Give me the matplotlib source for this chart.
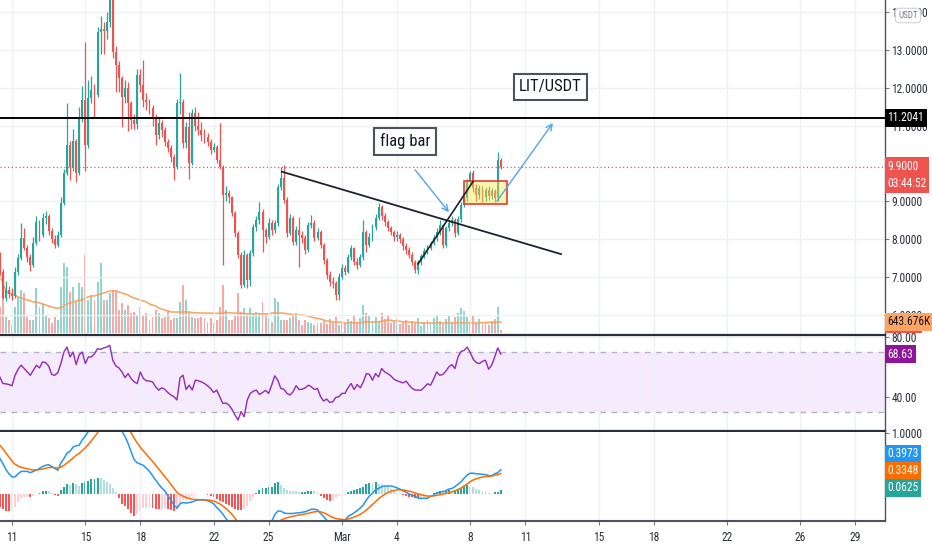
import numpy as np
import pandas as pd
import matplotlib
matplotlib.use("Agg")
import matplotlib.pyplot as plt
import matplotlib.dates as mdates
import matplotlib.font_manager as fm
from matplotlib.patches import Rectangle
from matplotlib.ticker import FormatStrFormatter
from matplotlib.transforms import blended_transform_factory, offset_copy

# ---------------- data (LIT/USDT, 4h bars) ----------------
bar_start = "2021-02-10 08:00"
first_open = 7.55
closes = [
    7.13, 6.45, 6.65, 6.55, 6.50, 7.13, 7.50, 8.03, 7.77, 7.52,
    7.30, 7.90, 8.45, 8.10, 8.55, 8.60, 8.20, 8.00, 7.85, 8.10,
    8.95, 9.75, 10.50, 9.90, 10.60, 9.75, 11.20, 11.68, 10.50, 11.73,
    11.94, 11.80, 13.47, 13.55, 13.50, 13.73, 14.40, 12.95, 12.60, 12.25,
    11.75, 12.00, 11.60, 11.15, 11.05, 12.34, 12.07, 11.68, 11.62, 11.47,
    11.23, 10.75, 11.07, 10.88, 10.57, 10.41, 10.17, 9.90, 11.60, 11.62,
    10.54, 10.96, 10.00, 11.33, 11.00, 10.88, 10.75, 10.70, 10.57, 10.35,
    10.43, 10.09, 9.90, 9.16, 9.22, 9.11, 8.69, 8.16, 7.58, 6.78,
    7.58, 6.92, 7.63, 8.32, 8.50, 8.71, 8.24, 8.05, 8.42, 8.24,
    8.42, 9.38, 9.61, 9.03, 8.16, 8.56, 7.92, 8.24, 8.10, 8.03,
    7.71, 8.37, 8.42, 8.03, 8.19, 7.84, 7.44, 7.05, 6.86, 6.84,
    6.52, 7.00, 7.23, 7.13, 7.52, 7.76, 7.39, 7.31, 7.52, 8.19,
    7.84, 8.05, 8.32, 8.56, 8.85, 8.61, 8.45, 8.29, 8.19, 8.05,
    8.10, 8.00, 7.81, 7.71, 7.58, 7.39, 7.18, 7.39, 7.55, 7.68,
    7.76, 7.89, 8.03, 8.19, 8.37, 7.84, 8.29, 8.42, 8.50, 8.16,
    8.53, 8.90, 9.08, 9.51, 9.75, 9.35, 9.16, 9.35, 9.11, 9.30,
    9.14, 9.27, 9.08, 10.09, 9.90,
]
highs = [
    7.65, 7.20, 6.90, 6.75, 6.70, 7.25, 7.60, 8.42, 8.30, 7.85,
    7.60, 8.05, 8.60, 8.50, 8.70, 8.75, 8.65, 8.30, 8.10, 8.20,
    9.10, 9.85, 11.60, 10.60, 10.90, 10.65, 11.50, 12.05, 13.20, 12.20,
    12.30, 12.10, 13.60, 13.90, 13.75, 14.00, 14.90, 14.80, 13.10, 12.70,
    12.30, 12.20, 12.15, 11.65, 11.30, 12.50, 12.50, 12.74, 11.85, 11.70,
    11.55, 11.30, 11.20, 11.15, 10.95, 10.65, 10.50, 10.25, 11.70, 12.40,
    11.70, 11.10, 11.35, 11.45, 11.50, 11.35, 11.10, 10.90, 10.80, 10.65,
    10.55, 10.50, 11.07, 9.95, 9.40, 9.30, 9.15, 8.75, 8.20, 7.65,
    7.70, 7.62, 7.70, 8.40, 8.60, 8.98, 8.80, 8.30, 8.55, 8.50,
    8.50, 9.45, 9.90, 9.96, 9.10, 8.65, 8.60, 8.35, 8.58, 8.20,
    8.10, 8.45, 8.63, 8.50, 8.30, 8.25, 7.90, 7.50, 7.15, 7.00,
    6.90, 7.10, 7.35, 7.30, 7.60, 7.84, 7.80, 7.50, 7.60, 8.50,
    8.25, 8.15, 8.40, 8.65, 8.95, 8.90, 8.70, 8.50, 8.35, 8.25,
    8.20, 8.15, 8.05, 7.90, 7.80, 7.65, 7.45, 7.45, 7.60, 7.75,
    7.85, 7.95, 8.10, 8.30, 8.50, 8.40, 8.35, 8.50, 8.60, 8.55,
    8.60, 8.98, 9.15, 9.60, 9.80, 9.83, 9.45, 9.42, 9.40, 9.38,
    9.40, 9.35, 9.32, 10.30, 10.15,
]
lows = [
    7.05, 6.40, 6.35, 6.45, 6.38, 6.45, 7.05, 7.45, 7.70, 7.40,
    7.15, 7.25, 7.85, 7.95, 8.05, 8.40, 8.10, 7.90, 7.75, 7.80,
    8.05, 8.90, 9.70, 9.55, 9.80, 9.50, 9.70, 11.10, 9.80, 10.40,
    11.60, 11.20, 11.75, 12.90, 12.90, 13.30, 13.60, 12.80, 11.90, 11.90,
    10.95, 11.60, 10.85, 10.90, 10.90, 10.90, 11.90, 11.50, 11.40, 11.30,
    11.00, 10.50, 10.65, 10.70, 10.45, 10.30, 10.05, 9.55, 9.85, 11.30,
    10.40, 10.40, 9.60, 9.95, 10.85, 10.75, 10.60, 10.55, 10.45, 10.25,
    10.30, 10.00, 9.85, 7.31, 9.00, 8.95, 8.60, 8.05, 7.50, 6.70,
    6.72, 6.70, 6.75, 7.55, 8.20, 8.40, 7.66, 7.90, 8.00, 8.10,
    8.15, 8.35, 9.30, 8.95, 8.05, 8.10, 7.85, 7.85, 7.26, 7.90,
    7.60, 7.65, 8.30, 7.95, 7.98, 7.75, 7.35, 6.95, 6.75, 6.70,
    6.39, 6.39, 6.95, 7.05, 7.10, 7.45, 7.30, 7.20, 7.25, 7.45,
    7.65, 7.80, 7.95, 8.25, 8.50, 8.50, 8.35, 8.20, 8.10, 7.95,
    7.95, 7.90, 7.70, 7.60, 7.50, 7.30, 7.10, 7.08, 7.30, 7.50,
    7.60, 7.70, 7.85, 7.95, 8.10, 7.76, 7.80, 8.20, 8.35, 8.05,
    8.10, 8.45, 8.85, 9.00, 9.45, 9.25, 9.00, 9.05, 8.98, 9.00,
    9.02, 9.05, 8.98, 9.00, 9.85,
]
volumes_k = [
    1521, 2984, 936, 761, 468, 1521, 2106, 2516, 2340, 936,
    761, 761, 2633, 1521, 1755, 1053, 878, 585, 936, 761,
    2691, 4095, 3861, 2399, 2691, 1814, 2925, 2691, 4563, 1931,
    2223, 1931, 2984, 4095, 1931, 1931, 2340, 2516, 2516, 1346,
    1755, 1346, 1638, 1170, 1229, 1053, 1521, 1053, 1170, 761,
    936, 1346, 1170, 878, 936, 1346, 761, 878, 878, 1814,
    2808, 1931, 1170, 936, 878, 878, 936, 878, 644, 878,
    585, 761, 1521, 2808, 1346, 761, 761, 1053, 2340, 1229,
    1463, 1170, 1463, 1170, 1229, 1170, 1814, 1170, 878, 644,
    2048, 1814, 761, 761, 761, 878, 1053, 1170, 761, 468,
    761, 644, 585, 468, 585, 585, 702, 527, 819, 644,
    936, 468, 702, 585, 819, 702, 1053, 585, 878, 1638,
    1170, 1053, 702, 936, 702, 1170, 819, 995, 585, 702,
    819, 527, 644, 761, 468, 702, 585, 878, 410, 644,
    761, 585, 878, 995, 702, 527, 819, 1053, 644, 936,
    1170, 1463, 1287, 936, 702, 1053, 585, 819, 527, 644,
    468, 702, 819, 1521, 176,
]
volume_ma_k = [
    3335, 2925, 2457, 2340, 2282, 2223, 2106, 2048, 1989, 1931,
    1872, 1814, 1814, 1755, 1697, 1638, 1580, 1521, 1463, 1463,
    1463, 1580, 1697, 1755, 1814, 1872, 1931, 1931, 2048, 2106,
    2165, 2165, 2223, 2282, 2340, 2399, 2457, 2457, 2457, 2399,
    2340, 2282, 2223, 2106, 2048, 1989, 1931, 1872, 1814, 1697,
    1638, 1580, 1463, 1404, 1346, 1287, 1229, 1229, 1229, 1229,
    1229, 1229, 1229, 1190, 1180, 1175, 1170, 1165, 1160, 1160,
    1155, 1150, 1160, 1175, 1185, 1180, 1170, 1160, 1165, 1150,
    1150, 1120, 1112, 1112, 1105, 1112, 1120, 1112, 1112, 1170,
    1170, 1175, 1170, 1160, 1112, 1112, 1053, 1053, 1053, 1040,
    1030, 995, 936, 878, 860, 819, 761, 702, 690, 644,
    644, 640, 600, 585, 585, 580, 585, 585, 590, 644,
    644, 650, 644, 640, 644, 702, 710, 761, 750, 702,
    702, 690, 644, 640, 644, 630, 620, 585, 585, 585,
    585, 580, 585, 590, 585, 585, 580, 585, 590, 585,
    585, 590, 590, 585, 585, 585, 585, 590, 602, 610,
    615, 620, 628, 636, 643.676,
]
rsi = [
    53.4, 49.0, 48.8, 48.3, 47.5, 54.5, 58.5, 61.2, 59.0, 56.7,
    54.5, 57.8, 61.2, 59.4, 63.4, 62.9, 60.7, 55.0, 54.5, 56.3,
    62.3, 70.0, 73.3, 66.7, 70.0, 61.6, 68.2, 70.0, 62.3, 66.7,
    66.7, 68.9, 72.2, 71.8, 72.7, 73.3, 74.4, 64.5, 60.7, 59.4,
    56.7, 53.0, 55.6, 52.3, 50.1, 49.0, 56.7, 52.3, 50.8, 50.6,
    50.1, 46.8, 44.6, 46.1, 45.2, 43.0, 41.3, 40.2, 38.0, 52.8,
    54.5, 45.0, 47.9, 44.6, 51.2, 50.8, 50.1, 49.0, 47.5, 45.7,
    43.0, 44.6, 40.2, 35.7, 36.0, 34.6, 31.8, 28.0, 24.7, 30.2,
    26.9, 38.0, 42.4, 43.9, 44.6, 41.7, 43.0, 44.4, 42.4, 47.9,
    54.1, 51.2, 45.7, 45.2, 42.4, 41.3, 43.5, 47.5, 45.0, 45.2,
    46.1, 47.9, 46.8, 45.0, 45.7, 40.2, 37.3, 38.6, 36.4, 36.8,
    39.7, 40.2, 42.4, 42.4, 46.1, 49.0, 45.0, 48.3, 46.1, 50.1,
    55.6, 55.1, 51.2, 55.6, 53.4, 59.0, 56.7, 55.6, 54.1, 51.9,
    50.8, 50.1, 49.4, 50.6, 47.9, 45.7, 44.6, 44.6, 44.6, 46.6,
    48.8, 47.9, 51.9, 56.7, 54.5, 55.0, 57.2, 60.1, 61.6, 59.0,
    66.7, 70.4, 71.1, 73.3, 69.6, 65.1, 62.9, 62.3, 63.8, 64.5,
    58.5, 61.2, 66.7, 72.7, 68.63,
]
macd = [
    0.585, 0.50, 0.40, 0.33, 0.28, 0.28, 0.33, 0.37, 0.37, 0.37,
    0.35, 0.37, 0.39, 0.42, 0.45, 0.47, 0.48, 0.45, 0.42, 0.39,
    0.51, 0.58, 0.67, 0.70, 0.77, 0.79, 0.80, 0.89, 0.95, 1.03,
    1.12, 1.19, 1.27, 1.33, 1.36, 1.38, 1.38, 1.35, 1.28, 1.17,
    1.03, 0.94, 0.83, 0.69, 0.56, 0.51, 0.49, 0.47, 0.42, 0.37,
    0.30, 0.23, 0.16, 0.10, 0.05, -0.03, -0.10, -0.18, -0.23, -0.16,
    -0.14, -0.15, -0.14, -0.13, -0.11, -0.10, -0.10, -0.10, -0.11, -0.13,
    -0.16, -0.22, -0.27, -0.33, -0.40, -0.46, -0.55, -0.64, -0.73, -0.80,
    -0.84, -0.83, -0.79, -0.73, -0.66, -0.60, -0.55, -0.51, -0.48, -0.45,
    -0.34, -0.28, -0.28, -0.31, -0.32, -0.32, -0.32, -0.31, -0.31, -0.30,
    -0.29, -0.27, -0.25, -0.25, -0.26, -0.32, -0.37, -0.43, -0.47, -0.48,
    -0.47, -0.45, -0.44, -0.43, -0.37, -0.34, -0.31, -0.27, -0.23, -0.18,
    -0.10, -0.03, 0.01, 0.07, 0.09, 0.12, 0.13, 0.13, 0.13, 0.12,
    0.10, 0.08, 0.05, 0.03, 0.00, -0.02, -0.04, -0.07, -0.07, -0.07,
    -0.07, -0.04, -0.02, 0.01, 0.03, 0.04, 0.05, 0.08, 0.09, 0.12,
    0.16, 0.20, 0.26, 0.31, 0.34, 0.34, 0.33, 0.33, 0.32, 0.32,
    0.30, 0.30, 0.33, 0.35, 0.3973,
]
signal = [
    0.800, 0.740, 0.672, 0.604, 0.539, 0.487, 0.456, 0.439, 0.425, 0.414,
    0.401, 0.395, 0.394, 0.399, 0.409, 0.421, 0.433, 0.436, 0.433, 0.424,
    0.441, 0.469, 0.509, 0.547, 0.592, 0.632, 0.665, 0.710, 0.758, 0.812,
    0.874, 0.937, 1.004, 1.069, 1.127, 1.178, 1.218, 1.244, 1.251, 1.235,
    1.194, 1.143, 1.080, 1.002, 0.914, 0.833, 0.764, 0.705, 0.648, 0.592,
    0.534, 0.473, 0.410, 0.348, 0.288, 0.224, 0.159, 0.091, 0.027, -0.010,
    -0.036, -0.059, -0.075, -0.086, -0.091, -0.093, -0.094, -0.095, -0.098, -0.104,
    -0.115, -0.136, -0.163, -0.196, -0.237, -0.282, -0.336, -0.397, -0.464, -0.531,
    -0.593, -0.640, -0.670, -0.682, -0.678, -0.662, -0.640, -0.614, -0.587, -0.560,
    -0.516, -0.469, -0.431, -0.407, -0.390, -0.376, -0.365, -0.354, -0.345, -0.336,
    -0.327, -0.316, -0.303, -0.292, -0.286, -0.293, -0.308, -0.332, -0.360, -0.384,
    -0.401, -0.411, -0.417, -0.420, -0.410, -0.396, -0.379, -0.357, -0.332, -0.302,
    -0.262, -0.216, -0.171, -0.123, -0.080, -0.040, -0.006, 0.021, 0.043, 0.058,
    0.066, 0.069, 0.065, 0.058, 0.046, 0.033, 0.018, 0.000, -0.014, -0.025,
    -0.034, -0.035, -0.032, -0.024, -0.013, -0.002, 0.008, 0.022, 0.036, 0.053,
    0.074, 0.099, 0.131, 0.167, 0.202, 0.230, 0.250, 0.266, 0.277, 0.286,
    0.289, 0.293, 0.305, 0.318, 0.3348,
]

level_price = 11.2041
countdown = "03:44:52"
price_ticks = [6, 7, 8, 9, 11, 12, 13, 14]   # 10.0000 sits under the last-price label
rsi_ticks = [40, 80]
macd_ticks = [1.0]
date_ticks = ["2021-02-11", "2021-02-15", "2021-02-18", "2021-02-22", "2021-02-25",
              "2021-03-01", "2021-03-04", "2021-03-08", "2021-03-11", "2021-03-15",
              "2021-03-18", "2021-03-22", "2021-03-26", "2021-03-29"]
date_labels = ["11", "15", "18", "22", "25", "Mar", "4", "8", "11", "15", "18", "22", "26", "29"]

# hand drawn chart objects (time, price)
trend_times, trend_prices = ["2021-02-25 17:30", "2021-03-12 22:50"], [9.78, 7.60]
pole_times, pole_prices = ["2021-03-05 03:40", "2021-03-08 03:40"], [7.34, 9.52]
flag_times, flag_prices = ["2021-03-07 15:50", "2021-03-10 00:00"], [8.92, 9.54]
arrow_flag = [("2021-03-04 23:45", 9.83), ("2021-03-06 20:10", 8.71)]
arrow_target = [("2021-03-09 11:00", 9.00), ("2021-03-12 12:15", 11.07)]
flag_note = ("2021-03-04 10:35", 10.58, "flag bar")
pair_note = ("2021-03-12 09:05", 12.03, "LIT/USDT")

# ---------------- fonts ----------------
def first_font(names):
    for name in names:
        try:
            fm.findfont(fm.FontProperties(family=name), fallback_to_default=False)
            return name
        except ValueError:
            continue
    return "DejaVu Sans"

NARROW = first_font(["Liberation Sans Narrow", "Roboto Condensed", "DejaVu Sans Condensed", "Liberation Sans"])
scale = 1.0 if "Narrow" in NARROW or "Condensed" in NARROW else 0.85
plt.rcParams["font.family"] = [NARROW, "DejaVu Sans"]
FS = 8.3 * scale
NOTE_FS = 12 * scale

UP, DOWN = "#26a69a", "#ef5350"
GRID = "#eef0f4"
TXT = "#2a2e39"

# ---------------- layout ----------------
W, H = 932, 550
fig = plt.figure(figsize=(W / 100, H / 100), dpi=100, facecolor="white")

def panel(top, bottom, right=885):
    return [0, 1 - bottom / H, right / W, (bottom - top) / H]

ax = fig.add_axes(panel(0, 335))
ax_rsi = fig.add_axes(panel(336, 431))
ax_macd = fig.add_axes(panel(432, 521))
vax = ax.twinx()
ax.set_zorder(vax.get_zorder() + 1)
ax.patch.set_visible(False)

t = mdates.date2num(pd.date_range(bar_start, periods=len(closes), freq="4h"))
day0 = mdates.date2num(pd.Timestamp("2021-02-11"))
px_day = 18.33
xlim = (day0 - 12 / px_day, day0 + (885 - 12) / px_day)
bw = 0.105
tick_x = mdates.date2num(pd.to_datetime(date_ticks))

o = np.array([first_open] + closes[:-1])
c = np.array(closes)
up = c >= o
col = np.where(up, UP, DOWN)

# candles
ax.vlines(t, lows, highs, colors=col, lw=0.9, zorder=3)
ax.bar(t, np.maximum(np.abs(c - o), 0.02), bottom=np.minimum(o, c), width=bw,
       color=col, linewidth=0, zorder=4)

# volume
vcol = np.where(up, "#92d3cc", "#f7a9a8")
vax.bar(t, volumes_k, width=bw, color=vcol, linewidth=0)
vax.plot(t, volume_ma_k, color="#f9a25e", lw=1.1)
vax.set_ylim(-117, 19480)
vax.set_yticks([])
for sp in vax.spines.values():
    sp.set_visible(False)

# lines and drawings on price panel
ax.axhline(level_price, color="black", lw=1.4, zorder=5)
ax.axhline(closes[-1], color=DOWN, lw=0.9, ls=(0, (1, 2)), zorder=2)
ax.plot(mdates.date2num(pd.to_datetime(trend_times)), trend_prices, color="#1e222d", lw=1.3, zorder=6)
ax.plot(mdates.date2num(pd.to_datetime(pole_times)), pole_prices, color="#1e222d", lw=1.2, zorder=6)
fx = mdates.date2num(pd.to_datetime(flag_times))
ax.add_patch(Rectangle((fx[0], flag_prices[0]), fx[1] - fx[0], flag_prices[1] - flag_prices[0],
                       facecolor=(1.0, 0.92, 0.23, 0.4), edgecolor="#e53935", lw=1.2, zorder=5))
for (t0, p0), (t1, p1) in (arrow_flag, arrow_target):
    ax.annotate("", xy=(mdates.date2num(pd.Timestamp(t1)), p1),
                xytext=(mdates.date2num(pd.Timestamp(t0)), p0),
                arrowprops=dict(arrowstyle="->", color="#4ea5f0", lw=1.0,
                                shrinkA=0, shrinkB=0, mutation_scale=11), zorder=6)
for tt, pp, label in (flag_note, pair_note):
    ax.text(mdates.date2num(pd.Timestamp(tt)), pp, label, ha="center", va="center",
            fontsize=NOTE_FS, color="#131722", zorder=7,
            bbox=dict(boxstyle="square,pad=0.32", fc="white", ec="#4c525e", lw=1.5))

ax.set_xlim(*xlim)
ax.set_ylim(5.46, 14.323)
ax.yaxis.tick_right()
ax.set_yticks(price_ticks)
ax.yaxis.set_major_formatter(FormatStrFormatter("%.4f"))

# RSI panel
ax_rsi.axhspan(30, 70, color="#9915ff", alpha=0.085, lw=0)
for lvl in (70, 30):
    ax_rsi.axhline(lvl, color="#b2b5be", lw=1, ls=(0, (4, 4)))
ax_rsi.plot(t, rsi, color="#9232b8", lw=1.05)
ax_rsi.set_ylim(17.3, 80.7)
ax_rsi.yaxis.tick_right()
ax_rsi.set_yticks(rsi_ticks)
ax_rsi.yaxis.set_major_formatter(FormatStrFormatter("%.2f"))

# MACD panel
m = np.array(macd)
s = np.array(signal)
hist = m - s
prev = np.concatenate([[hist[0]], hist[:-1]])
hcol = np.where(hist >= 0, np.where(hist >= prev, "#26a69a", "#b2dfdb"),
                np.where(hist <= prev, "#ff5252", "#ffcdd2"))
ax_macd.bar(t, hist, width=bw, color=hcol, linewidth=0)
ax_macd.plot(t, m, color="#2196f3", lw=1.1)
ax_macd.plot(t, s, color="#ff6d00", lw=1.1)
ax_macd.set_ylim(-0.443, 1.016)
ax_macd.yaxis.tick_right()
ax_macd.set_yticks(macd_ticks)
ax_macd.yaxis.set_major_formatter(FormatStrFormatter("%.4f"))

# shared styling
for a in (ax, ax_rsi, ax_macd):
    a.set_xlim(*xlim)
    a.set_xticks(tick_x)
    a.grid(True, axis="x", color=GRID, lw=1, zorder=0)
    a.spines["top"].set_visible(False)
    a.spines["left"].set_visible(False)
    a.spines["right"].set_color("#50535e")
    a.spines["right"].set_linewidth(1)
    a.tick_params(axis="y", length=3, pad=1.5, color="#787b86", labelsize=FS, labelcolor=TXT)
for a in (ax, ax_rsi):
    a.grid(True, axis="y", color=GRID, lw=1, zorder=0)
    a.tick_params(axis="x", length=0, labelbottom=False)
    a.spines["bottom"].set_color("#2a2e39")
    a.spines["bottom"].set_linewidth(1.6)
ax_macd.set_xticklabels(date_labels)
ax_macd.tick_params(axis="x", length=3, pad=4, color="#787b86", labelsize=FS, labelcolor=TXT)
ax_macd.spines["bottom"].set_color("#50535e")
ax_macd.spines["bottom"].set_linewidth(1.5)

# right-hand value labels
LABEL_X = 887.5 / W

def side_label(axis, y, text, face, color="white", yref="data", dy=0, va="center"):
    base = axis.transData if yref == "data" else axis.transAxes
    tr = offset_copy(blended_transform_factory(fig.transFigure, base), fig=fig, x=0, y=dy, units="points")
    fig.text(LABEL_X, y, text, transform=tr, ha="left", va=va, fontsize=FS, color=color,
             linespacing=1.45, zorder=20,
             bbox=dict(boxstyle="square,pad=0.22", fc=face, ec="none"))

# red strip of the last volume bar's label, peeking out below the MA label
fig.add_artist(Rectangle((885 / W, 1 - 333 / H), 37 / W, 6 / H, transform=fig.transFigure,
                         facecolor="#ef5350", edgecolor="none", zorder=19))
side_label(ax, level_price, f"{level_price:.4f}", "black")
side_label(ax, closes[-1], f"{closes[-1]:.4f}\n{countdown}", "#ef5350", dy=5.5, va="top")
side_label(vax, volume_ma_k[-1], f"{volume_ma_k[-1]:.3f}K", "#ffa463", color="#131722")
side_label(ax_rsi, rsi[-1], f"{rsi[-1]:.2f}", "#8e1599")
side_label(ax_macd, 0.758, f"{macd[-1]:.4f}", "#2196f3", yref="axes")
side_label(ax_macd, 0.567, f"{signal[-1]:.4f}", "#ff6d00", yref="axes")
side_label(ax_macd, 0.371, f"{hist[-1]:.4f}", "#26a69a", yref="axes")

fig.text(908 / W, 1 - 15.5 / H, "USDT", ha="center", va="center", fontsize=6.5 * scale,
         color="#787b86", zorder=21,
         bbox=dict(boxstyle="round,pad=0.3,rounding_size=0.35", fc="white", ec="#d1d4dc", lw=0.8))

fig.savefig("out.png", dpi=100, facecolor="white")
